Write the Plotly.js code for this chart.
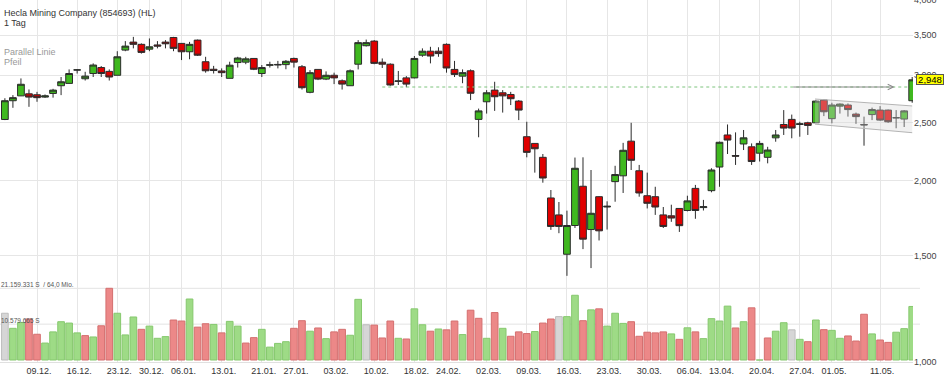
<!DOCTYPE html>
<html><head><meta charset="utf-8">
<script src="https://cdn.plot.ly/plotly-3.0.1.min.js"></script>
<style>html,body{margin:0;padding:0;background:#fff}#chart{width:950px;height:376px}</style>
</head><body><div id="chart"></div>
<script>
// Daily candles (index = trading day, 03.12. .. 15.05.)
const opens = [2.532,2.721,2.772,2.794,2.784,2.759,2.798,2.882,2.908,3.060,
2.960,3.020,3.090,3.045,3.000,3.304,3.407,3.378,3.316,3.370,
3.407,3.468,3.390,3.283,3.433,3.160,3.070,3.050,2.965,3.150,
3.155,3.200,3.020,3.118,3.120,3.125,3.200,3.100,2.810,3.068,
2.956,3.000,2.937,2.882,3.130,3.360,3.420,3.154,3.130,2.930,
2.970,2.970,3.240,3.290,3.290,3.378,3.068,2.990,3.052,2.533,
2.710,2.834,2.805,2.787,2.717,2.370,2.310,2.190,1.874,1.756,
1.510,1.686,1.960,1.660,1.883,1.810,1.995,2.040,2.330,2.080,
1.890,1.883,1.756,1.750,1.800,1.786,1.944,1.806,1.927,2.110,
2.386,2.205,2.305,2.280,2.225,2.190,2.360,2.484,2.533,2.484,
2.500,2.500,2.728,2.540,2.665,2.676,2.585,2.484,2.580,2.625,
2.625,2.550,2.536,2.721];
const highs = [2.747,2.780,2.964,2.841,2.815,2.787,2.848,2.980,3.068,3.071,
3.040,3.140,3.108,3.068,3.290,3.420,3.476,3.390,3.455,3.420,
3.433,3.476,3.395,3.410,3.440,3.220,3.110,3.080,3.160,3.220,
3.220,3.200,3.120,3.160,3.170,3.180,3.210,3.120,3.060,3.070,
3.045,3.030,2.952,3.068,3.433,3.440,3.433,3.200,3.140,3.050,
2.990,3.230,3.326,3.346,3.340,3.390,3.170,3.068,3.068,2.640,
2.834,2.926,2.834,2.815,2.728,2.510,2.310,2.218,1.932,1.845,
1.785,2.188,2.190,2.086,1.886,1.850,2.120,2.315,2.500,2.127,
2.065,1.956,1.810,1.826,1.800,1.890,1.970,1.860,2.100,2.326,
2.484,2.410,2.432,2.310,2.333,2.280,2.432,2.625,2.580,2.510,
2.510,2.728,2.735,2.700,2.693,2.693,2.600,2.560,2.650,2.665,
2.630,2.625,2.625,2.980];
const lows = [2.526,2.648,2.770,2.658,2.710,2.750,2.753,2.780,2.906,3.020,
2.940,2.980,2.980,2.940,3.000,3.290,3.326,3.260,3.290,3.326,
3.326,3.290,3.180,3.190,3.230,3.030,3.020,2.980,2.965,3.090,
3.130,3.060,2.980,3.090,3.080,3.070,3.090,2.840,2.800,2.945,
2.945,2.900,2.840,2.880,3.068,3.350,3.130,3.085,2.882,2.890,
2.865,2.965,3.220,3.140,3.220,3.030,2.980,2.910,2.728,2.365,
2.590,2.617,2.600,2.676,2.526,2.190,2.065,1.987,1.658,1.637,
1.390,1.670,1.540,1.432,1.592,1.660,1.847,1.910,2.086,1.883,
1.800,1.756,1.670,1.710,1.645,1.780,1.730,1.786,1.915,1.956,
2.218,2.127,2.252,2.127,2.155,2.140,2.325,2.386,2.356,2.370,
2.386,2.497,2.565,2.495,2.590,2.560,2.490,2.290,2.526,2.520,
2.500,2.448,2.460,2.700];
const closes = [2.721,2.753,2.898,2.759,2.753,2.772,2.834,2.926,3.020,3.063,
2.990,3.120,3.020,2.980,3.220,3.355,3.378,3.275,3.346,3.355,
3.385,3.326,3.283,3.378,3.240,3.052,3.055,3.030,3.118,3.205,
3.195,3.070,3.090,3.122,3.127,3.165,3.155,2.860,3.030,2.956,
3.000,2.970,2.900,3.052,3.400,3.400,3.140,3.130,2.890,2.935,
2.900,3.200,3.290,3.230,3.260,3.085,3.010,3.030,2.800,2.617,
2.805,2.763,2.772,2.742,2.625,2.232,2.263,2.023,1.680,1.680,
1.686,2.100,1.600,1.767,1.652,1.815,2.050,2.250,2.165,1.910,
1.836,1.810,1.680,1.735,1.685,1.853,1.786,1.812,2.086,2.320,
2.340,2.200,2.360,2.155,2.310,2.252,2.386,2.450,2.450,2.490,
2.475,2.717,2.608,2.676,2.686,2.630,2.560,2.480,2.630,2.526,
2.510,2.548,2.617,2.948];
// Volume in million shares
const volumeMio = [13.8,9.35,11.1,12.1,7.6,5.0,8.3,11.3,10.9,8.0,
7.2,6.8,10.1,21.159331,13.8,7.4,12.7,9.05,10.0,6.4,
6.9,11.8,11.5,18.0,9.7,10.7,10.5,8.0,11.4,10.0,
5.0,6.6,9.05,3.8,4.9,5.4,9.35,11.6,8.5,9.45,
6.3,8.3,9.05,7.3,17.9,10.4,10.3,6.5,11.5,6.4,
6.2,15.1,10.4,8.5,9.15,8.9,11.5,7.5,14.7,12.3,
6.4,14.0,9.35,7.0,8.3,7.8,8.4,10.9,12.1,12.8,
12.8,19.1,11.6,14.8,15.1,10.0,13.8,10.8,11.3,7.0,
8.2,8.0,8.3,7.7,6.1,9.5,8.3,6.3,12.2,11.5,
15.9,9.45,11.3,15.4,0,6.5,8.5,11.0,8.9,6.1,
5.4,11.8,8.95,8.75,6.4,7.1,5.6,13.5,7.7,5.9,
5.2,8.2,9.25,15.8];
const tickIndex = [4,9,14,18,22,27,32,36,41,46,51,55,60,65,70,75,80,85,89,94,99,103,109];
const tickLabels = ['09.12.','16.12.','23.12.','30.12.','06.01.','13.01.','21.01.','27.01.','03.02.','10.02.','18.02.','24.02.','02.03.','09.03.','16.03.','23.03.','30.03.','06.04.','13.04.','20.04.','27.04.','01.05.','11.05.'];
const priceTicks = [1, 1.5, 2, 2.5, 3, 3.5, 4];
const priceTickLabels = ['1,000','1,500','2,000','2,500','3,000','3,500','4,000'];
const lastPriceLabel = '2,948';
const resistanceLevel = 2.868;
const resistanceFrom = 47, resistanceTo = 112.6;
const channelX = [100.9, 113.0];
const channelUpper = [2.739, 2.667];
const channelLower = [2.487, 2.407];
const arrowFrom = 98.0, arrowTo = 110.8;
const volMaxLabel = '21.159.331 S  / 64,0 Mio.';
const volHalfLabel = '10.579.665 S';

const FONT = 'Arial, "Liberation Sans", sans-serif';
const idx = closes.map((_, i) => i);
const volMax = Math.max(...volumeMio);

const volFill = closes.map((c, i) => (i === 0 || c === closes[i-1]) ? '#d6d6d6' : (c > closes[i-1] ? '#9edb86' : '#ec8888'));
const volLine = closes.map((c, i) => (i === 0 || c === closes[i-1]) ? '#bdbdbd' : (c > closes[i-1] ? '#86c86e' : '#d46f6f'));

const traces = [
  { type:'scatter', x:[channelX[0],channelX[1],channelX[1],channelX[0]], y:[channelUpper[0],channelUpper[1],channelLower[1],channelLower[0]],
    fill:'toself', fillcolor:'rgba(215,215,215,0.35)', line:{width:0}, mode:'lines', hoverinfo:'skip', showlegend:false },
  { type:'scatter', x:channelX, y:channelUpper, mode:'lines', line:{color:'#b4b4b4', width:1}, hoverinfo:'skip', showlegend:false },
  { type:'scatter', x:channelX, y:channelLower, mode:'lines', line:{color:'#b4b4b4', width:1}, hoverinfo:'skip', showlegend:false },
  { type:'scatter', x:[resistanceFrom, resistanceTo], y:[resistanceLevel, resistanceLevel], mode:'lines',
    line:{color:'#7fc47f', width:1, dash:'3px,3px'}, hoverinfo:'skip', showlegend:false },
  { type:'candlestick', x:idx, open:opens, high:highs, low:lows, close:closes,
    increasing:{fillcolor:'#3fb81f', line:{color:'#2b2b2b', width:1}},
    decreasing:{fillcolor:'#e00000', line:{color:'#2b2b2b', width:1}},
    whiskerwidth:0, hoverinfo:'skip', showlegend:false },
  { type:'bar', x:idx, y:volumeMio, yaxis:'y2', marker:{color:volFill, line:{color:volLine, width:1}},
    hoverinfo:'skip', showlegend:false }
];

const layout = {
  width:950, height:376,
  margin:{l:0, r:37, t:0, b:14, pad:0},
  paper_bgcolor:'#fff', plot_bgcolor:'#fff',
  font:{family:FONT, size:9, color:'#333'},
  showlegend:false,
  boxgap:0.16, boxgroupgap:0,
  bargap:0.17,
  xaxis:{ range:[-0.608, 113.10], tickvals:tickIndex, ticktext:tickLabels, showgrid:true, gridcolor:'#e6e6e6', gridwidth:1,
    zeroline:false, ticks:'', showline:true, linecolor:'#e0e0e0', mirror:true, rangeslider:{visible:false},
    tickfont:{family:FONT, size:9, color:'#333'}, ticklabelshift:2, fixedrange:true },
  yaxis:{ type:'log', range:[-0.0005, Math.log10(4.004)], side:'right', tickvals:priceTicks, ticktext:priceTickLabels,
    showgrid:true, gridcolor:'#e6e6e6', gridwidth:1, zeroline:false, ticks:'', showline:false, ticklabeloverflow:'allow',
    tickfont:{family:FONT, size:9, color:'#444'}, fixedrange:true },
  yaxis2:{ overlaying:'y', range:[-0.59, 106.24], showgrid:false, showticklabels:false, zeroline:false, ticks:'', fixedrange:true },
  shapes:[
    { type:'line', xref:'paper', yref:'y2', x0:0, x1:920/913, y0:volMax, y1:volMax, line:{color:'#e3e3e3', width:1}, layer:'below' },
    { type:'line', xref:'paper', yref:'y2', x0:0, x1:920/913, y0:volMax/2, y1:volMax/2, line:{color:'#e3e3e3', width:1}, layer:'below' }
  ],
  annotations:[
    { xref:'paper', yref:'paper', x:0, y:1-13/362, xanchor:'left', yanchor:'middle', xshift:2, showarrow:false,
      text:'Hecla Mining Company (854693) (HL)', font:{family:FONT, size:9, color:'#333'} },
    { xref:'paper', yref:'paper', x:0, y:1-23.5/362, xanchor:'left', yanchor:'middle', xshift:2, showarrow:false,
      text:'1 Tag', font:{family:FONT, size:9, color:'#333'} },
    { xref:'paper', yref:'paper', x:0, y:1-52/362, xanchor:'left', yanchor:'middle', xshift:2, showarrow:false,
      text:'Parallel Linie', font:{family:FONT, size:9, color:'#999'} },
    { xref:'paper', yref:'paper', x:0, y:1-62/362, xanchor:'left', yanchor:'middle', xshift:2, showarrow:false,
      text:'Pfeil', font:{family:FONT, size:9, color:'#999'} },
    { xref:'paper', yref:'y2', x:0, y:volMax, xanchor:'left', yanchor:'bottom', xshift:-1, yshift:-2, showarrow:false,
      text:volMaxLabel, font:{family:FONT, size:6.5, color:'#555'} },
    { xref:'paper', yref:'y2', x:0, y:volMax/2, xanchor:'left', yanchor:'bottom', xshift:-1, yshift:-2, showarrow:false,
      text:volHalfLabel, font:{family:FONT, size:6.5, color:'#555'} },
    { xref:'x', yref:'y', x:arrowTo, y:Math.log10(resistanceLevel), axref:'x', ayref:'y', ax:arrowFrom, ay:Math.log10(resistanceLevel),
      showarrow:true, arrowhead:5, arrowsize:1.1, arrowwidth:1, arrowcolor:'#8a8a8a', standoff:0, text:'' },
    { xref:'paper', yref:'y', x:1, y:Math.log10(closes[closes.length-1]), xanchor:'left', yanchor:'middle', xshift:3, showarrow:false,
      text:lastPriceLabel, bgcolor:'#ffff00', bordercolor:'#555', borderwidth:1, borderpad:0, height:9, width:26,
      font:{family:FONT, size:9.5, color:'#000'} }
  ]
};

Plotly.newPlot('chart', traces, layout, {staticPlot:true, displayModeBar:false});
</script>
</body></html>
